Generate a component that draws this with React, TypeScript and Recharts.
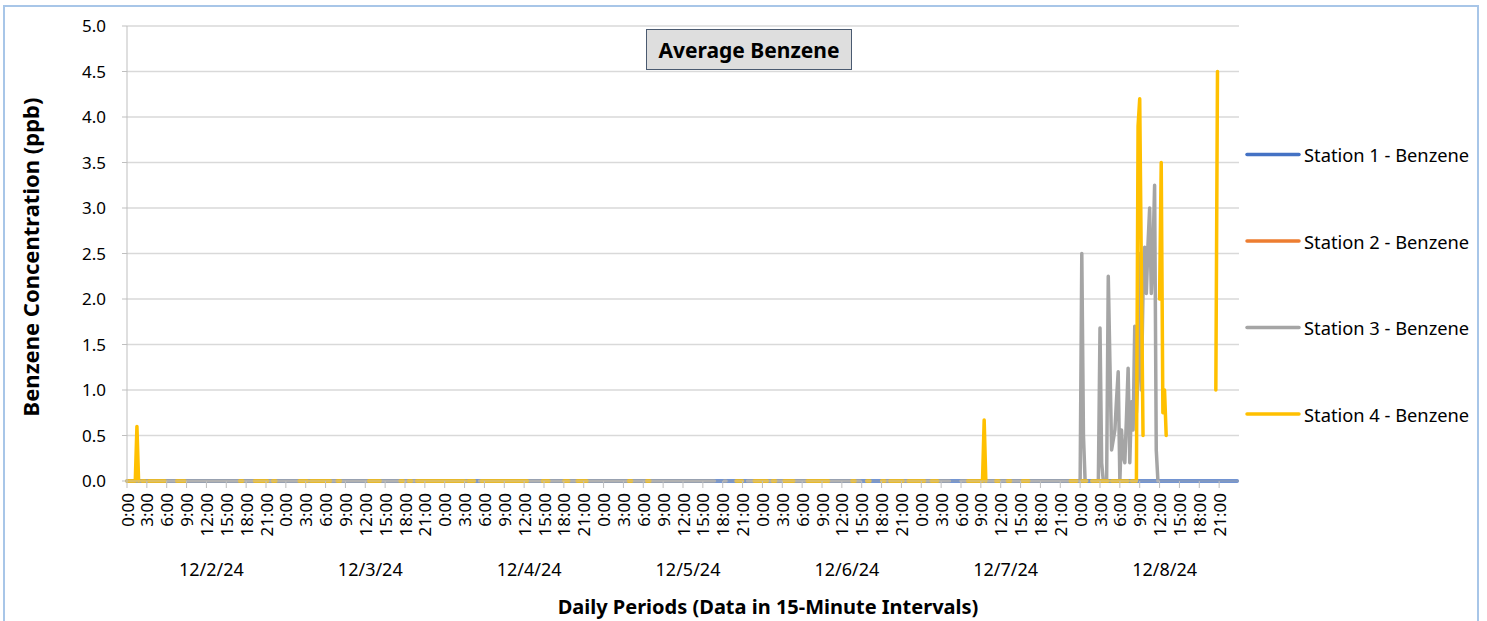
import React from "react";
import { LineChart, Line, XAxis, YAxis, CartesianGrid } from "recharts";

// one point every 15 minutes, 96 per day
const DAY_LABELS = ["12/2/24", "12/3/24", "12/4/24", "12/5/24", "12/6/24", "12/7/24", "12/8/24"];
const HOUR_LABELS = ["0:00", "3:00", "6:00", "9:00", "12:00", "15:00", "18:00", "21:00"];
const STEPS_PER_DAY = 96;
const STEPS_PER_TICK = 12;
const Y_TICKS = [0, 0.5, 1, 1.5, 2, 2.5, 3, 3.5, 4, 4.5, 5];

const SERIES_NAMES = [
  "Station 1 - Benzene",
  "Station 2 - Benzene",
  "Station 3 - Benzene",
  "Station 4 - Benzene",
];
const SERIES_COLORS = ["#4472C4", "#ED7D31", "#A5A5A5", "#FFC000"];

// Station 1: reported 0 ppb for the whole week
const STATION1_RUNS: [number, number][] = [[0, 671]];

// Station 2: no valid readings
const STATION2_RUNS: [number, number][] = [];

// Station 3: 0 ppb except gaps and the 12/8 episode
const STATION3_GAPS: [number, number][] = [
  [211, 212], [356, 360], [363, 374], [444, 455], [498, 503], [580, 586], [624, 671],
];
const STATION3_PEAKS: [number, number][] = [
  [577, 2.5], [578, 0.5], [588, 1.68], [589, 0.2], [593, 2.25], [594, 1.3],
  [595, 0.34], [596, 0.45], [597, 0.56], [598, 0.9], [599, 1.2], [601, 0.56],
  [602, 0.27], [603, 0.2], [604, 0.7], [605, 1.24], [606, 0.2], [607, 0.87],
  [608, 0.56], [609, 1.7], [610, 0.75], [611, 1.2], [612, 2.5], [613, 1.0],
  [614, 2.1], [615, 2.57], [616, 2.06], [617, 2.6], [618, 3.0], [619, 2.06],
  [620, 2.5], [621, 3.25], [622, 0.34],
];

// Station 4: patchy record, runs of 0 ppb plus a few spikes
const STATION4_RUNS: [number, number][] = [
  [0, 7], [9, 11], [13, 23], [30, 35], [68, 70], [77, 85], [88, 90], [104, 109],
  [111, 123], [127, 129], [146, 153], [165, 167], [170, 172], [175, 204], [206, 210],
  [214, 242], [251, 255], [264, 267], [272, 278], [303, 305], [314, 316], [368, 372],
  [379, 387], [390, 392], [397, 403], [411, 424], [438, 440], [447, 449], [456, 458],
  [461, 469], [472, 482], [486, 490], [508, 519], [525, 527], [532, 534], [541, 545],
  [570, 574], [577, 580], [583, 593], [595, 605], [607, 610],
];
const STATION4_PEAKS: [number, number][] = [
  [6, 0.6], [518, 0.67], [611, 3.9], [612, 4.2], [613, 2.3], [614, 0.5],
  [624, 2.0], [625, 3.5], [626, 0.75], [627, 1.0], [628, 0.5], [658, 1.0], [659, 4.5],
];

const TOTAL = DAY_LABELS.length * STEPS_PER_DAY;
const X_TICKS = Array.from({ length: TOTAL / STEPS_PER_TICK }, (_, k) => k * STEPS_PER_TICK);

const inRuns = (i: number, runs: [number, number][]) => runs.some(([a, b]) => i >= a && i <= b);
const peaks3 = new Map(STATION3_PEAKS);
const peaks4 = new Map(STATION4_PEAKS);

const data = Array.from({ length: TOTAL }, (_, i) => ({
  i,
  s1: inRuns(i, STATION1_RUNS) ? 0 : null,
  s2: inRuns(i, STATION2_RUNS) ? 0 : null,
  s3: inRuns(i, STATION3_GAPS) ? null : peaks3.get(i) ?? 0,
  s4: peaks4.has(i) ? peaks4.get(i) : inRuns(i, STATION4_RUNS) ? 0 : null,
}));

const FONT = "'Noto Sans', 'Open Sans', sans-serif";

const TimeTick = (props: any) => {
  const { x, y, payload } = props;
  const v = payload.value as number;
  const label = HOUR_LABELS[Math.round(v / STEPS_PER_TICK) % HOUR_LABELS.length];
  const day =
    v % STEPS_PER_DAY === STEPS_PER_DAY / 2 ? DAY_LABELS[Math.floor(v / STEPS_PER_DAY)] : null;
  return (
    <g>
      <text
        x={x}
        y={y}
        transform={`rotate(-90 ${x} ${y})`}
        textAnchor="end"
        dominantBaseline="central"
        fontSize={17}
        fill="#000"
      >
        {label}
      </text>
      {day && (
        <text x={x + 5} y={569} textAnchor="middle" dominantBaseline="central" fontSize={18} fill="#000">
          {day}
        </text>
      )}
    </g>
  );
};

const keys = ["s1", "s2", "s3", "s4"];

export default function App() {
  return (
    <div
      style={{
        position: "absolute",
        left: 0,
        top: 0,
        width: 1487,
        height: 621,
        background: "#fff",
        overflow: "hidden",
        fontFamily: FONT,
      }}
    >
      <div
        style={{
          position: "absolute",
          left: 3,
          top: 5,
          width: 1476,
          height: 700,
          border: "2px solid #A8C6E8",
          boxSizing: "border-box",
        }}
      />
      <div style={{ position: "absolute", left: 0, top: 0 }}>
        <LineChart width={1487} height={621} data={data} margin={{ top: 26, right: 248, bottom: 80, left: 67 }}>
          <CartesianGrid vertical={false} stroke="#D9D9D9" strokeWidth={1.5} />
          <XAxis
            dataKey="i"
            type="number"
            domain={[0, TOTAL]}
            ticks={X_TICKS}
            interval={0}
            height={60}
            stroke="#BFBFBF"
            tickSize={7}
            tickMargin={5}
            tick={<TimeTick />}
          />
          <YAxis
            domain={[0, 5]}
            ticks={Y_TICKS}
            width={60}
            stroke="#BFBFBF"
            tickSize={5}
            tickMargin={16}
            tickFormatter={(v: number) => v.toFixed(1)}
            tick={{ fill: "#000", fontSize: 17 }}
          />
          {keys.map((k, idx) => (
            <Line
              key={k}
              dataKey={k}
              name={SERIES_NAMES[idx]}
              stroke={SERIES_COLORS[idx]}
              strokeWidth={3.5}
              strokeLinecap="round"
              strokeLinejoin="round"
              dot={false}
              activeDot={false}
              connectNulls={false}
              isAnimationActive={false}
              type="linear"
            />
          ))}
        </LineChart>
      </div>
      <div
        style={{
          position: "absolute",
          left: 646,
          top: 29,
          width: 206,
          height: 41,
          boxSizing: "border-box",
          background: "#DEDEDE",
          border: "1.5px solid #4A5A70",
          display: "flex",
          alignItems: "center",
          justifyContent: "center",
          fontWeight: 700,
          fontSize: 21,
          color: "#000",
        }}
      >
        Average Benzene
      </div>
      <svg width={1487} height={621} style={{ position: "absolute", left: 0, top: 0, pointerEvents: "none" }}>
        <text
          x={30}
          y={257}
          transform="rotate(-90 30 257)"
          textAnchor="middle"
          dominantBaseline="central"
          fontWeight={700}
          fontSize={22}
          fill="#000"
        >
          Benzene Concentration (ppb)
        </text>
        <text x={768} y={606} textAnchor="middle" dominantBaseline="central" fontWeight={700} fontSize={20} fill="#000">
          Daily Periods (Data in 15-Minute Intervals)
        </text>
        {SERIES_NAMES.map((n, idx) => {
          const cy = 154.5 + idx * 86.5;
          return (
            <g key={n}>
              <line x1={1247} x2={1299} y1={cy} y2={cy} stroke={SERIES_COLORS[idx]} strokeWidth={3.5} strokeLinecap="round" />
              <text x={1304} y={cy} dominantBaseline="central" fontSize={18.3} fill="#000">
                {n}
              </text>
            </g>
          );
        })}
      </svg>
    </div>
  );
}
